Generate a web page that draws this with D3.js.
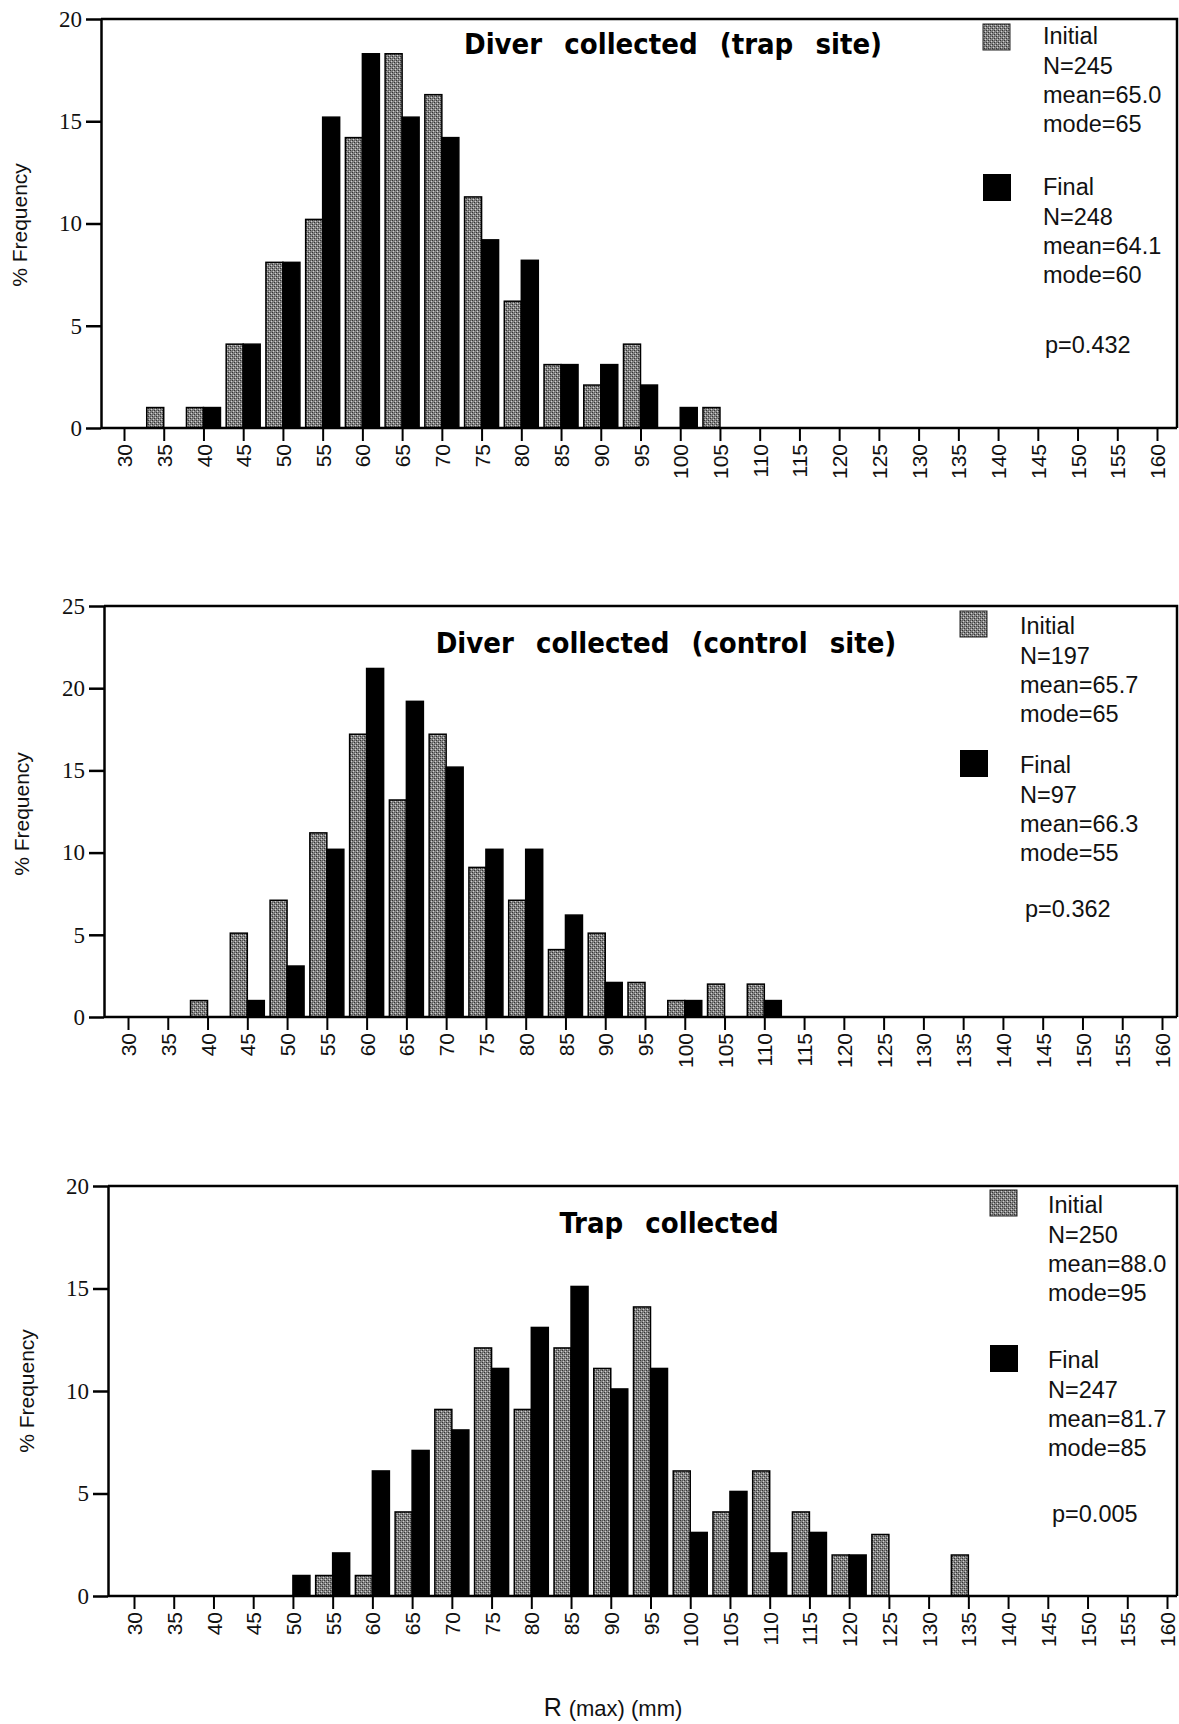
<!doctype html>
<html lang="en">
<head>
<meta charset="utf-8">
<title>R(max) size frequency - initial vs final</title>
<script src="https://cdn.jsdelivr.net/npm/d3@7"></script>
<style>
  body { margin: 0; background: #fff; }
  .xaxis text { font-family: "Liberation Sans", Arial, sans-serif; font-size: 21px; fill: #111; }
  .yaxis text { font-family: "Liberation Serif", "Times New Roman", serif; font-size: 23px; fill: #111; }
  .legend text { font-family: "Liberation Sans", Arial, sans-serif; font-size: 23.5px; fill: #111; }
  .ylabel, .xlabel { font-family: "Liberation Sans", Arial, sans-serif; fill: #111; }
  .title { font-family: "Liberation Sans Narrow", "DejaVu Sans Condensed", Arial, sans-serif; font-weight: bold; font-size: 29px; word-spacing: 2px; fill: #000; }
</style>
</head>
<body>
<div id="chart"></div>
<script>
// size classes (mm), shared by all three panels
const sizeClasses = [30, 35, 40, 45, 50, 55, 60, 65, 70, 75, 80, 85, 90, 95, 100,
                     105, 110, 115, 120, 125, 130, 135, 140, 145, 150, 155, 160];

// % frequency, one value per size class
const trapSiteInitial = [0, 1.0, 1.0, 4.1, 8.1, 10.2, 14.2, 18.3, 16.3, 11.3, 6.2, 3.1, 2.1, 4.1, 0, 1.0,
                         0, 0, 0, 0, 0, 0, 0, 0, 0, 0, 0];
const trapSiteFinal   = [0, 0, 1.0, 4.1, 8.1, 15.2, 18.3, 15.2, 14.2, 9.2, 8.2, 3.1, 3.1, 2.1, 1.0, 0,
                         0, 0, 0, 0, 0, 0, 0, 0, 0, 0, 0];

const controlInitial  = [0, 0, 1.0, 5.1, 7.1, 11.2, 17.2, 13.2, 17.2, 9.1, 7.1, 4.1, 5.1, 2.1, 1.0, 2.0, 2.0,
                         0, 0, 0, 0, 0, 0, 0, 0, 0, 0];
const controlFinal    = [0, 0, 0, 1.0, 3.1, 10.2, 21.2, 19.2, 15.2, 10.2, 10.2, 6.2, 2.1, 0, 1.0, 0, 1.0,
                         0, 0, 0, 0, 0, 0, 0, 0, 0, 0];

const trapInitial     = [0, 0, 0, 0, 0, 1.0, 1.0, 4.1, 9.1, 12.1, 9.1, 12.1, 11.1, 14.1, 6.1, 4.1, 6.1,
                         4.1, 2.0, 3.0, 0, 2.0, 0, 0, 0, 0, 0];
const trapFinal       = [0, 0, 0, 0, 1.0, 2.1, 6.1, 7.1, 8.1, 11.1, 13.1, 15.1, 10.1, 11.1, 3.1, 5.1, 2.1,
                         3.1, 2.0, 0, 0, 0, 0, 0, 0, 0, 0];

// y tick labels
const yTicks20 = [0, 5, 10, 15, 20];
const yTicks25 = [0, 5, 10, 15, 20, 25];

// panel titles and legend texts
const titles = ["Diver  collected  (trap  site)", "Diver  collected  (control  site)", "Trap  collected"];
const initialStats = [["Initial", "N=245", "mean=65.0", "mode=65"],
                      ["Initial", "N=197", "mean=65.7", "mode=65"],
                      ["Initial", "N=250", "mean=88.0", "mode=95"]];
const finalStats   = [["Final", "N=248", "mean=64.1", "mode=60"],
                      ["Final", "N=97", "mean=66.3", "mode=55"],
                      ["Final", "N=247", "mean=81.7", "mode=85"]];
const pValues = ["p=0.432", "p=0.362", "p=0.005"];

const W = 1179, H = 1724;

const svg = d3.select("#chart").append("svg")
  .attr("width", W)
  .attr("height", H)
  .style("display", "block");

// stippled grey fill used for the "Initial" bars
const defs = svg.append("defs");
const pat = defs.append("pattern")
  .attr("id", "stipple")
  .attr("width", 4).attr("height", 4)
  .attr("patternUnits", "userSpaceOnUse");
pat.append("rect").attr("width", 4).attr("height", 4).attr("fill", "#858585");
[[0, 0, "#333"], [2, 2, "#333"], [1, 3, "#d0d0d0"], [3, 1, "#d0d0d0"], [2, 0, "#5a5a5a"], [0, 2, "#5a5a5a"]]
  .forEach(p => pat.append("rect").attr("x", p[0]).attr("y", p[1])
    .attr("width", 1).attr("height", 1).attr("fill", p[2]));

// layout of the three panels
const panels = [
  { axisX: 101, top: 19, zero: 428, right: 1177, x0: 124, x1: 1157, yMax: 20, yTicks: yTicks20,
    initial: trapSiteInitial, final: trapSiteFinal, titleX: 673, titleY: 44,
    legX: 983, legText: 1043, legY1: 36, legY2: 187, sqY1: 24, sqY2: 174, pX: 1045, pY: 345, ylabX: 20, ylabY: 225 },
  { axisX: 104, top: 606, zero: 1017, right: 1177, x0: 128, x1: 1162, yMax: 25, yTicks: yTicks25,
    initial: controlInitial, final: controlFinal, titleX: 666, titleY: 643,
    legX: 960, legText: 1020, legY1: 626, legY2: 765, sqY1: 611, sqY2: 750, pX: 1025, pY: 909, ylabX: 22, ylabY: 814 },
  { axisX: 108, top: 1186, zero: 1596, right: 1177, x0: 134, x1: 1167, yMax: 20, yTicks: yTicks20,
    initial: trapInitial, final: trapFinal, titleX: 669, titleY: 1223,
    legX: 990, legText: 1048, legY1: 1205, legY2: 1360, sqY1: 1190, sqY2: 1345, pX: 1052, pY: 1514, ylabX: 27, ylabY: 1391 }
];

const barW = 17;

panels.forEach(function (p, i) {
  const g = svg.append("g");

  const x = d3.scaleLinear().domain([30, 160]).range([p.x0, p.x1]);
  const y = d3.scaleLinear().domain([0, p.yMax]).range([p.zero, p.top]);

  // bars: initial left of the class mark, final right of it
  const rows = sizeClasses.map((s, k) => ({ s: s, a: p.initial[k], b: p.final[k] }));

  g.append("g").selectAll("rect")
    .data(rows.filter(d => d.a > 0))
    .join("rect")
      .attr("x", d => x(d.s) - barW)
      .attr("y", d => y(d.a))
      .attr("width", barW)
      .attr("height", d => y(0) - y(d.a))
      .attr("fill", "url(#stipple)")
      .attr("stroke", "#000")
      .attr("stroke-width", 1.5);

  g.append("g").selectAll("rect")
    .data(rows.filter(d => d.b > 0))
    .join("rect")
      .attr("x", d => x(d.s))
      .attr("y", d => y(d.b))
      .attr("width", barW)
      .attr("height", d => y(0) - y(d.b))
      .attr("fill", "#000")
      .attr("stroke", "#000")
      .attr("stroke-width", 1.5);

  // frame: top, right and baseline
  g.append("path")
    .attr("d", `M${p.axisX},${p.top}H${p.right}V${p.zero}M${p.axisX},${p.zero}H${p.right}`)
    .attr("fill", "none")
    .attr("stroke", "#000")
    .attr("stroke-width", 2.5);

  // y axis
  const yAxis = g.append("g")
    .attr("class", "yaxis")
    .attr("transform", `translate(${p.axisX},0)`)
    .call(d3.axisLeft(y).tickValues(p.yTicks).tickSize(15).tickSizeOuter(0).tickPadding(4));
  yAxis.selectAll("line, path").attr("stroke", "#000").attr("stroke-width", 2.5);

  // x axis with rotated class labels
  const xAxis = g.append("g")
    .attr("class", "xaxis")
    .attr("transform", `translate(0,${p.zero})`)
    .call(d3.axisBottom(x).tickValues(sizeClasses).tickSize(13).tickSizeOuter(0));
  xAxis.select(".domain").remove();
  xAxis.selectAll("line").attr("stroke", "#000").attr("stroke-width", 2);
  xAxis.selectAll("text")
    .attr("transform", "rotate(-90)")
    .attr("x", -16)
    .attr("y", 0)
    .attr("dy", "0.36em")
    .attr("text-anchor", "end");

  // y label
  g.append("text")
    .attr("class", "ylabel")
    .attr("transform", `translate(${p.ylabX},${p.ylabY}) rotate(-90)`)
    .attr("text-anchor", "middle")
    .attr("dy", "0.35em")
    .style("font-size", "21px")
    .text("% Frequency");

  // title
  g.append("text")
    .attr("class", "title")
    .attr("x", p.titleX)
    .attr("y", p.titleY)
    .attr("dy", "0.35em")
    .attr("text-anchor", "middle")
    .style("white-space", "pre")
    .text(titles[i]);

  // legend
  const leg = g.append("g").attr("class", "legend");
  leg.append("rect")
    .attr("x", p.legX).attr("y", p.sqY1)
    .attr("width", 27).attr("height", 26)
    .attr("fill", "url(#stipple)")
    .attr("stroke", "#222").attr("stroke-width", 1);
  leg.append("rect")
    .attr("x", p.legX).attr("y", p.sqY2)
    .attr("width", 28).attr("height", 27)
    .attr("fill", "#000");
  leg.selectAll("text.ini")
    .data(initialStats[i])
    .join("text")
      .attr("class", "ini")
      .attr("x", p.legText)
      .attr("y", (d, k) => p.legY1 + k * 29.3)
      .attr("dy", "0.35em")
      .text(d => d);
  leg.selectAll("text.fin")
    .data(finalStats[i])
    .join("text")
      .attr("class", "fin")
      .attr("x", p.legText)
      .attr("y", (d, k) => p.legY2 + k * 29.3)
      .attr("dy", "0.35em")
      .text(d => d);
  leg.append("text")
    .attr("x", p.pX)
    .attr("y", p.pY)
    .attr("dy", "0.35em")
    .text(pValues[i]);
});

// shared x axis title
const xt = svg.append("text")
  .attr("class", "xlabel")
  .attr("x", 613)
  .attr("y", 1708)
  .attr("dy", "0.35em")
  .attr("text-anchor", "middle")
  .style("font-size", "22px");
xt.append("tspan").style("font-size", "25px").text("R ");
xt.append("tspan").text("(max) (mm)");
</script>
</body>
</html>
